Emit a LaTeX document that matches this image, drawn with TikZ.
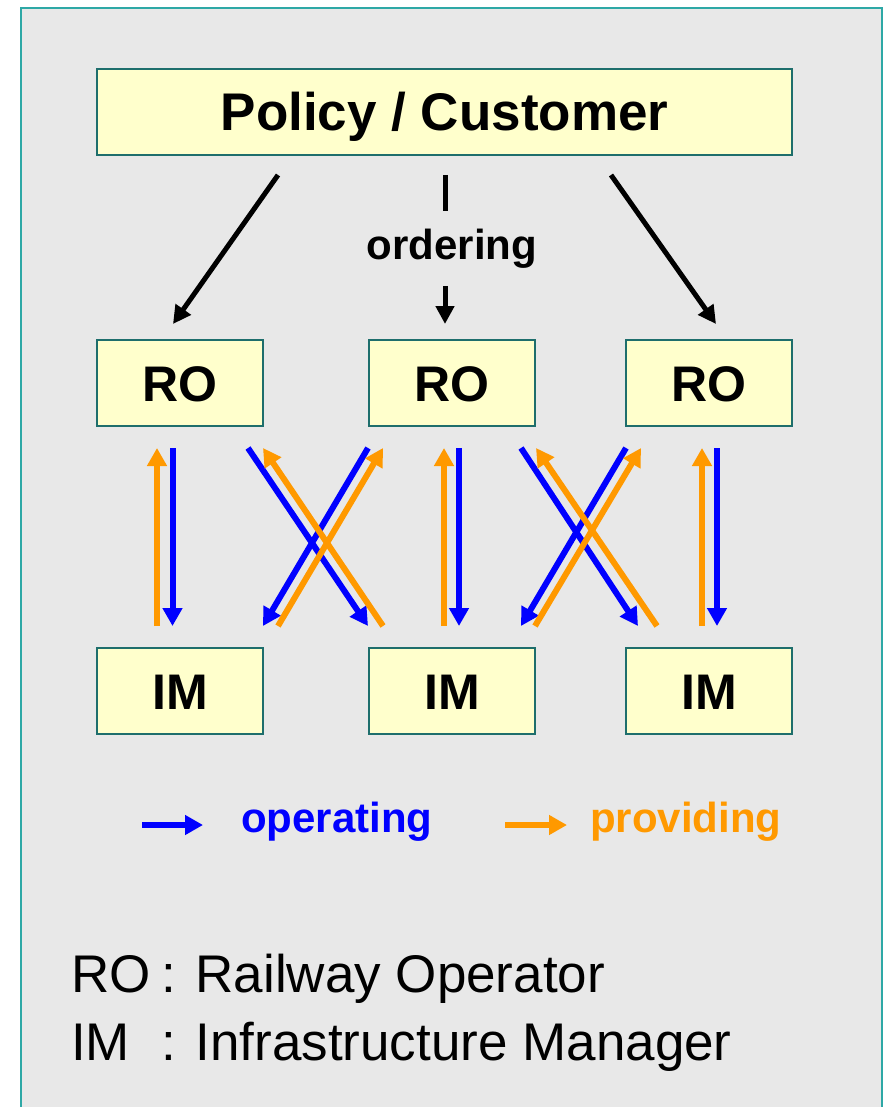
\documentclass[tikz,border=0pt]{standalone}
\usepackage{fontspec}
\setmainfont{Liberation Sans}
\usetikzlibrary{arrows.meta}
\definecolor{bgc}{HTML}{E8E8E8}
\definecolor{framec}{HTML}{2EA8A6}
\definecolor{boxfill}{HTML}{FFFFCC}
\definecolor{boxline}{HTML}{1E6E6C}
\definecolor{opblue}{HTML}{0000FF}
\definecolor{provorange}{HTML}{FF9900}
\tikzset{
  box/.style={draw=boxline, fill=boxfill, line width=2pt, inner sep=0pt,
    minimum width=166pt, minimum height=86pt, text height=36pt, text depth=0pt,
    font=\bfseries\fontsize{50}{56}\selectfont},
  bigbox/.style={box, minimum width=695pt, text height=38pt,
    font=\bfseries\fontsize{53}{60}\selectfont},
  oparrow/.style={draw=opblue, line width=6pt, -{Triangle[length=18pt,width=19pt]}},
  prarrow/.style={draw=provorange, line width=6pt, -{Triangle[length=18pt,width=19pt]}},
  ordarrow/.style={draw=black, line width=5pt, -{Triangle[length=18pt,width=18pt]}},
  ordline/.style={draw=black, line width=5pt},
  legtext/.style={inner sep=0pt, anchor=base west, font=\bfseries\fontsize{42}{48}\selectfont},
  keytext/.style={inner sep=0pt, anchor=base west, font=\fontsize{53}{60}\selectfont}
}
\begin{document}
\begin{tikzpicture}[x=1pt, y=-1pt]
\path[use as bounding box] (0,0) rectangle (883,1107);
\clip (0,0) rectangle (883,1107);
\fill[white] (0,0) rectangle (883,1107);
\draw[fill=bgc, draw=framec, line width=2pt] (21,8) rectangle (882,1130);

% boxes
\node[bigbox] (policy) at (444.5,112) {Policy / Customer};
\node[box] (ro1) at (180,383) {RO};
\node[box] (ro2) at (452,383) {RO};
\node[box] (ro3) at (709,383) {RO};
\node[box] (im1) at (180,691) {IM};
\node[box] (im2) at (452,691) {IM};
\node[box] (im3) at (709,691) {IM};

% ordering
\node[inner sep=0pt, font=\bfseries\fontsize{42}{48}\selectfont] (ord) at (452,249) {ordering};
\draw[ordarrow] ([shift={(-166.5,19)}]policy.south) -- ([shift={(-7,-15)}]ro1.north);
\draw[ordline] ([shift={(0.5,19)}]policy.south) -- ([shift={(-7,-18)}]ord.north);
\draw[ordarrow] ([shift={(-7,17)}]ord.south) -- ([shift={(-7,-15)}]ro2.north);
\draw[ordarrow] ([shift={(166.5,19)}]policy.south) -- ([shift={(7,-15)}]ro3.north);

% left pair
\draw[prarrow] ([shift={(-23,-21)}]im1.north) -- ([shift={(-23,21)}]ro1.south);
\draw[oparrow] ([shift={(-7.5,21)}]ro1.south) -- ([shift={(-7.5,-21)}]im1.north);
% first crossing
\draw[oparrow] ([shift={(68,21)}]ro1.south) -- ([shift={(-84,-21)}]im2.north);
\draw[oparrow] ([shift={(-84,21)}]ro2.south) -- ([shift={(83,-21)}]im1.north);
\draw[prarrow] ([shift={(-69,-21)}]im2.north) -- ([shift={(83,21)}]ro1.south);
\draw[prarrow] ([shift={(98,-21)}]im1.north) -- ([shift={(-69,21)}]ro2.south);
% middle pair
\draw[prarrow] ([shift={(-8,-21)}]im2.north) -- ([shift={(-8,21)}]ro2.south);
\draw[oparrow] ([shift={(7,21)}]ro2.south) -- ([shift={(7,-21)}]im2.north);
% second crossing
\draw[oparrow] ([shift={(69,21)}]ro2.south) -- ([shift={(-71,-21)}]im3.north);
\draw[oparrow] ([shift={(-83,21)}]ro3.south) -- ([shift={(69,-21)}]im2.north);
\draw[prarrow] ([shift={(-52,-21)}]im3.north) -- ([shift={(84,21)}]ro2.south);
\draw[prarrow] ([shift={(83,-21)}]im2.north) -- ([shift={(-68,21)}]ro3.south);
% right pair
\draw[prarrow] ([shift={(-7,-21)}]im3.north) -- ([shift={(-7,21)}]ro3.south);
\draw[oparrow] ([shift={(8,21)}]ro3.south) -- ([shift={(8,-21)}]im3.north);

% legend
\node[legtext, text=opblue] (oplab) at (241,832) {operating};
\node[legtext, text=provorange] (prlab) at (590,832) {providing};
\coordinate (opstart) at (142,825);
\coordinate (prstart) at (505,825);
\draw[oparrow] (opstart) -- ([xshift=-38pt]oplab.west |- opstart);
\draw[prarrow] (prstart) -- ([xshift=-23pt]prlab.west |- prstart);

% key
\node[keytext] (rokey) at (71,992) {RO};
\node[keytext] (rotext) at (161,992) {: Railway Operator};
\node[keytext] (imkey) at (71,1060) {IM};
\node[keytext] (imtext) at (161,1060) {: Infrastructure Manager};
\end{tikzpicture}
\end{document}
